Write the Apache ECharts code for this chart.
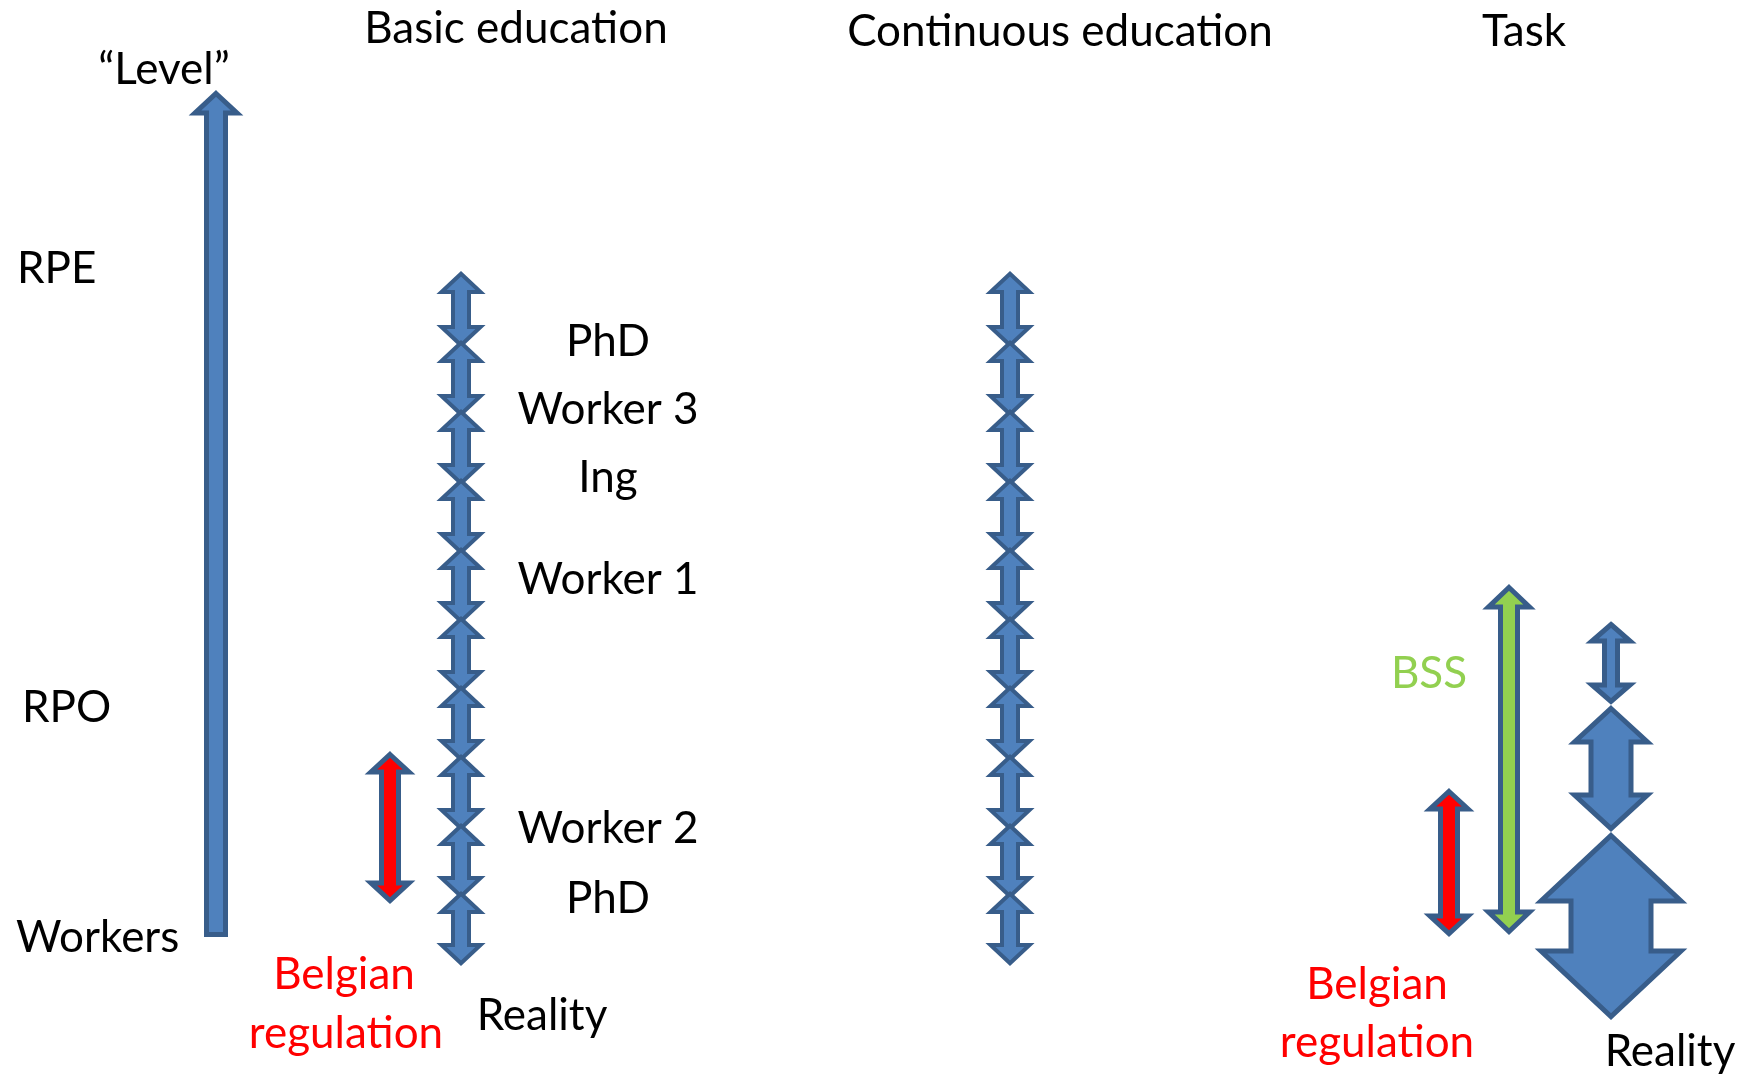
<!DOCTYPE html>
<html><head><meta charset="utf-8">
<script src="https://cdn.jsdelivr.net/npm/echarts@6/dist/echarts.min.js"></script>
<style>html,body{margin:0;padding:0;background:#fff}#c{width:1753px;height:1074px}</style>
</head><body><div id="c"></div>
<script>
// ---- text content ----
const headings = ['Basic education', 'Continuous education', 'Task'];
const headingX = [516, 1060, 1524];
const headingY = [29, 32, 32];

const levelNames = ['\u201cLevel\u201d', 'RPE', 'RPO', 'Workers'];
const levelNameX = [164, 17, 22, 16];
const levelNameY = [70, 269, 708, 938];

const basicNames = ['PhD', 'Worker 3', 'Ing', 'Worker 1', 'Worker 2', 'PhD'];
const basicNameLevels = [342, 410, 478, 580, 829, 899];
const basicNameX = 608;

const regulationNames = ['Belgian', 'regulation', 'Belgian', 'regulation'];
const regulationX = [344, 346, 1377, 1377];
const regulationY = [975, 1034, 985, 1043];

const realityNames = ['Reality', 'Reality'];
const realityX = [542, 1670];
const realityY = [1016, 1052];

const bssNames = ['BSS'];
const bssX = [1429];
const bssY = [674];

// ---- arrow geometry (level scale) ----
// single "Level" arrow: [x, tip, tail, shaft, head, headLen]
const levelArrow = [[216, 90, 937, 24, 47, 23]];
// stacked double arrows: junction levels
const basicJunctions = [271, 344, 413, 482, 551, 620, 689, 758, 827, 895, 966];
const continuousJunctions = [271, 344, 413, 482, 551, 620, 689, 758, 827, 895, 966];
const basicX = 461, continuousX = 1010;
// regulation (red) arrows: [x, top, bottom, shaft, head, headLen]
const regulationArrows = [[390, 751, 904, 22, 43, 21], [1449, 788, 937, 22, 43, 21]];
// BSS (green) arrow
const bssArrows = [[1509, 584, 935, 22, 46, 23]];
// Task reality stack
const taskStack = [[1611, 621, 705, 18, 43, 20], [1611, 705, 832, 45, 78, 37], [1611, 832, 1020, 85, 145, 69]];

function stackSegments(x, j) {
  const out = [];
  for (let k = 0; k < j.length - 1; k++) {
    const top = k === 0 ? j[k] : j[k] - 4;
    const bot = k === j.length - 2 ? j[k + 1] : j[k + 1] + 4;
    out.push([x, top, bot, 20, 43, 21]);
  }
  return out;
}

const FONT = 'Lato';
const FS = 44;

function arrowRender(lw, fill, single) {
  return function (params, api) {
    const cx = api.value(0), yt = api.value(1), yb = api.value(2);
    const w = api.value(3), W = api.value(4), h = api.value(5);
    const c = (x, y) => api.coord([x, y]);
    const i = lw / 2, t = lw * 0.7;
    const sw = (w - lw) / 2, hw = (W - lw) / 2;
    const T = yt + t, B = yb - (single ? i : t);
    let pts;
    if (single) {
      pts = [c(cx, T), c(cx + hw, yt + h), c(cx + sw, yt + h), c(cx + sw, B), c(cx - sw, B), c(cx - sw, yt + h), c(cx - hw, yt + h)];
    } else {
      pts = [c(cx, T), c(cx + hw, yt + h), c(cx + sw, yt + h), c(cx + sw, yb - h), c(cx + hw, yb - h), c(cx, B),
             c(cx - hw, yb - h), c(cx - sw, yb - h), c(cx - sw, yt + h), c(cx - hw, yt + h)];
    }
    return { type: 'polygon', shape: { points: pts },
      style: { fill: fill, stroke: '#385D8A', lineWidth: lw, lineJoin: 'miter' } };
  };
}

function textSeries(names, xs, ys, color, align) {
  return {
    type: 'custom', coordinateSystem: 'cartesian2d', silent: true,
    data: names.map((n, k) => [xs[k], ys[k], n]),
    renderItem: function (params, api) {
      const p = api.coord([api.value(0), api.value(1)]);
      return { type: 'text', style: { text: names[params.dataIndex], x: p[0], y: p[1], fill: color,
        fontFamily: FONT, fontSize: FS, align: align || 'center', verticalAlign: 'middle' } };
    }
  };
}

function arrowSeries(data, lw, fill, single) {
  return { type: 'custom', coordinateSystem: 'cartesian2d', silent: true, data: data,
    renderItem: arrowRender(lw, fill, single) };
}

const chart = echarts.init(document.getElementById('c'), null, { renderer: 'canvas' });
chart.setOption({
  animation: false,
  backgroundColor: '#ffffff',
  grid: { left: 0, right: 0, top: 0, bottom: 0 },
  xAxis: { type: 'value', min: 0, max: 1753, show: false },
  yAxis: { type: 'value', min: 0, max: 1074, inverse: true, show: false },
  series: [
    arrowSeries(levelArrow, 5, '#4F81BD', true),
    arrowSeries(stackSegments(basicX, basicJunctions), 4, '#4F81BD', false),
    arrowSeries(stackSegments(continuousX, continuousJunctions), 4, '#4F81BD', false),
    arrowSeries(regulationArrows, 5, '#FF0000', false),
    arrowSeries(bssArrows, 5, '#92D050', false),
    arrowSeries(taskStack, 5, '#4F81BD', false),
    textSeries(headings, headingX, headingY, '#000000'),
    textSeries(levelNames.slice(0, 1), levelNameX.slice(0, 1), levelNameY.slice(0, 1), '#000000'),
    textSeries(levelNames.slice(1), levelNameX.slice(1), levelNameY.slice(1), '#000000', 'left'),
    textSeries(basicNames, basicNames.map(() => basicNameX), basicNameLevels, '#000000'),
    textSeries(regulationNames, regulationX, regulationY, '#FF0000'),
    textSeries(realityNames, realityX, realityY, '#000000'),
    textSeries(bssNames, bssX, bssY, '#92D050')
  ]
});
</script></body></html>
